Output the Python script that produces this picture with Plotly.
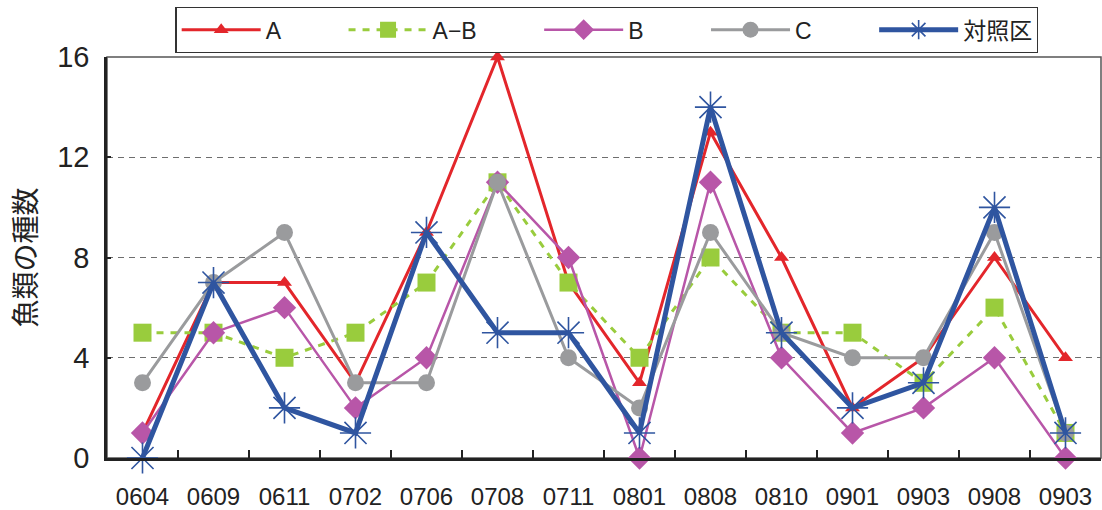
import plotly.graph_objects as go

x_labels = ["0604", "0609", "0611", "0702", "0706", "0708", "0711",
            "0801", "0808", "0810", "0901", "0903", "0908", "0903"]

series_names = ["A", "A\u2212B", "B", "C", "対照区"]
vals_A = [1, 7, 7, 3, 9, 16, 7, 3, 13, 8, 2, 4, 8, 4]
vals_AB = [5, 5, 4, 5, 7, 11, 7, 4, 8, 5, 5, 3, 6, 1]
vals_B = [1, 5, 6, 2, 4, 11, 8, 0, 11, 4, 1, 2, 4, 0]
vals_C = [3, 7, 9, 3, 3, 11, 4, 2, 9, 5, 4, 4, 9, 1]
vals_ctrl = [0, 7, 2, 1, 9, 5, 5, 1, 14, 5, 2, 3, 10, 1]

y_ticks = [0, 4, 8, 12, 16]

# make duplicate category labels unique (trailing spaces are invisible)
cats = []
seen = {}
for lab in x_labels:
    n = seen.get(lab, 0)
    cats.append(lab + " " * n)
    seen[lab] = n + 1

styles = [
    dict(color="#E3262B", width=3, dash="solid", symbol="triangle-up", size=13, mline=0),
    dict(color="#99CC3D", width=3, dash="7px,7px", symbol="square", size=18, mline=0),
    dict(color="#B856A8", width=2.5, dash="solid", symbol="diamond", size=18, mline=0),
    dict(color="#9A9B9D", width=3, dash="solid", symbol="circle", size=17, mline=0),
    dict(color="#2F55A0", width=5, dash="solid", symbol="asterisk-open", size=26, mline=1.6),
]
all_vals = [vals_A, vals_AB, vals_B, vals_C, vals_ctrl]

pad = "\u00a0" * 9  # legend spacing between entries

fig = go.Figure()
for i, (name, vals, st) in enumerate(zip(series_names, all_vals, styles)):
    label = name + (pad if i < len(series_names) - 1 else "")
    fig.add_trace(go.Scatter(
        x=cats, y=vals, name=label, mode="lines+markers",
        line=dict(color=st["color"], width=st["width"], dash=st["dash"]),
        marker=dict(symbol=st["symbol"], size=st["size"], color=st["color"],
                    line=dict(color=st["color"], width=st["mline"])),
        cliponaxis=False,
    ))

fig.add_shape(type="rect", xref="paper", yref="paper", x0=0, x1=1, y0=0, y1=1,
              line=dict(color="#555555", width=1.5), layer="below")

fig.update_layout(
    width=1102, height=510,
    margin=dict(l=107, r=1, t=57, b=52, autoexpand=False),
    paper_bgcolor="white", plot_bgcolor="white",
    font=dict(family="Liberation Sans, Arial, sans-serif", color="#222222"),
    showlegend=True,
    legend=dict(
        orientation="h", x=0.503, xanchor="center", y=1.01, yanchor="bottom",
        bordercolor="#333333", borderwidth=1.2, bgcolor="white",
        font=dict(size=23, family="Liberation Sans, Arial, Noto Sans CJK JP", color="#222222"),
        itemwidth=79,
        traceorder="normal",
    ),
    xaxis=dict(
        type="category", categoryorder="array", categoryarray=cats,
        tickvals=cats, ticktext=x_labels,
        range=[-0.5, len(cats) - 0.5],
        tickson="boundaries", ticks="inside", ticklen=8, tickwidth=1.5, tickcolor="#222222",
        showline=True, linecolor="#222222", linewidth=2.5,
        showgrid=False, zeroline=False,
        tickfont=dict(size=24, family="Liberation Sans, Arial, sans-serif", color="#222222"),
        ticklabelstandoff=15,
    ),
    yaxis=dict(
        range=[0, 16], tickvals=y_ticks,
        ticks="inside", ticklen=4, tickwidth=1.5, tickcolor="#222222",
        showline=True, linecolor="#222222", linewidth=2.5,
        showgrid=True, gridcolor="#6E6E6E", gridwidth=1.3, griddash="6px,5px",
        zeroline=False,
        tickfont=dict(size=29, family="Liberation Sans Narrow, Liberation Sans, sans-serif", color="#222222"),
        ticklabelstandoff=9,
        title=dict(text="魚類の種数", standoff=13,
                   font=dict(size=28, family="Noto Sans CJK JP", color="#222222")),
    ),
)

fig.write_html("out.html", config={"displayModeBar": False},
               post_script="document.body.style.margin='0';")
